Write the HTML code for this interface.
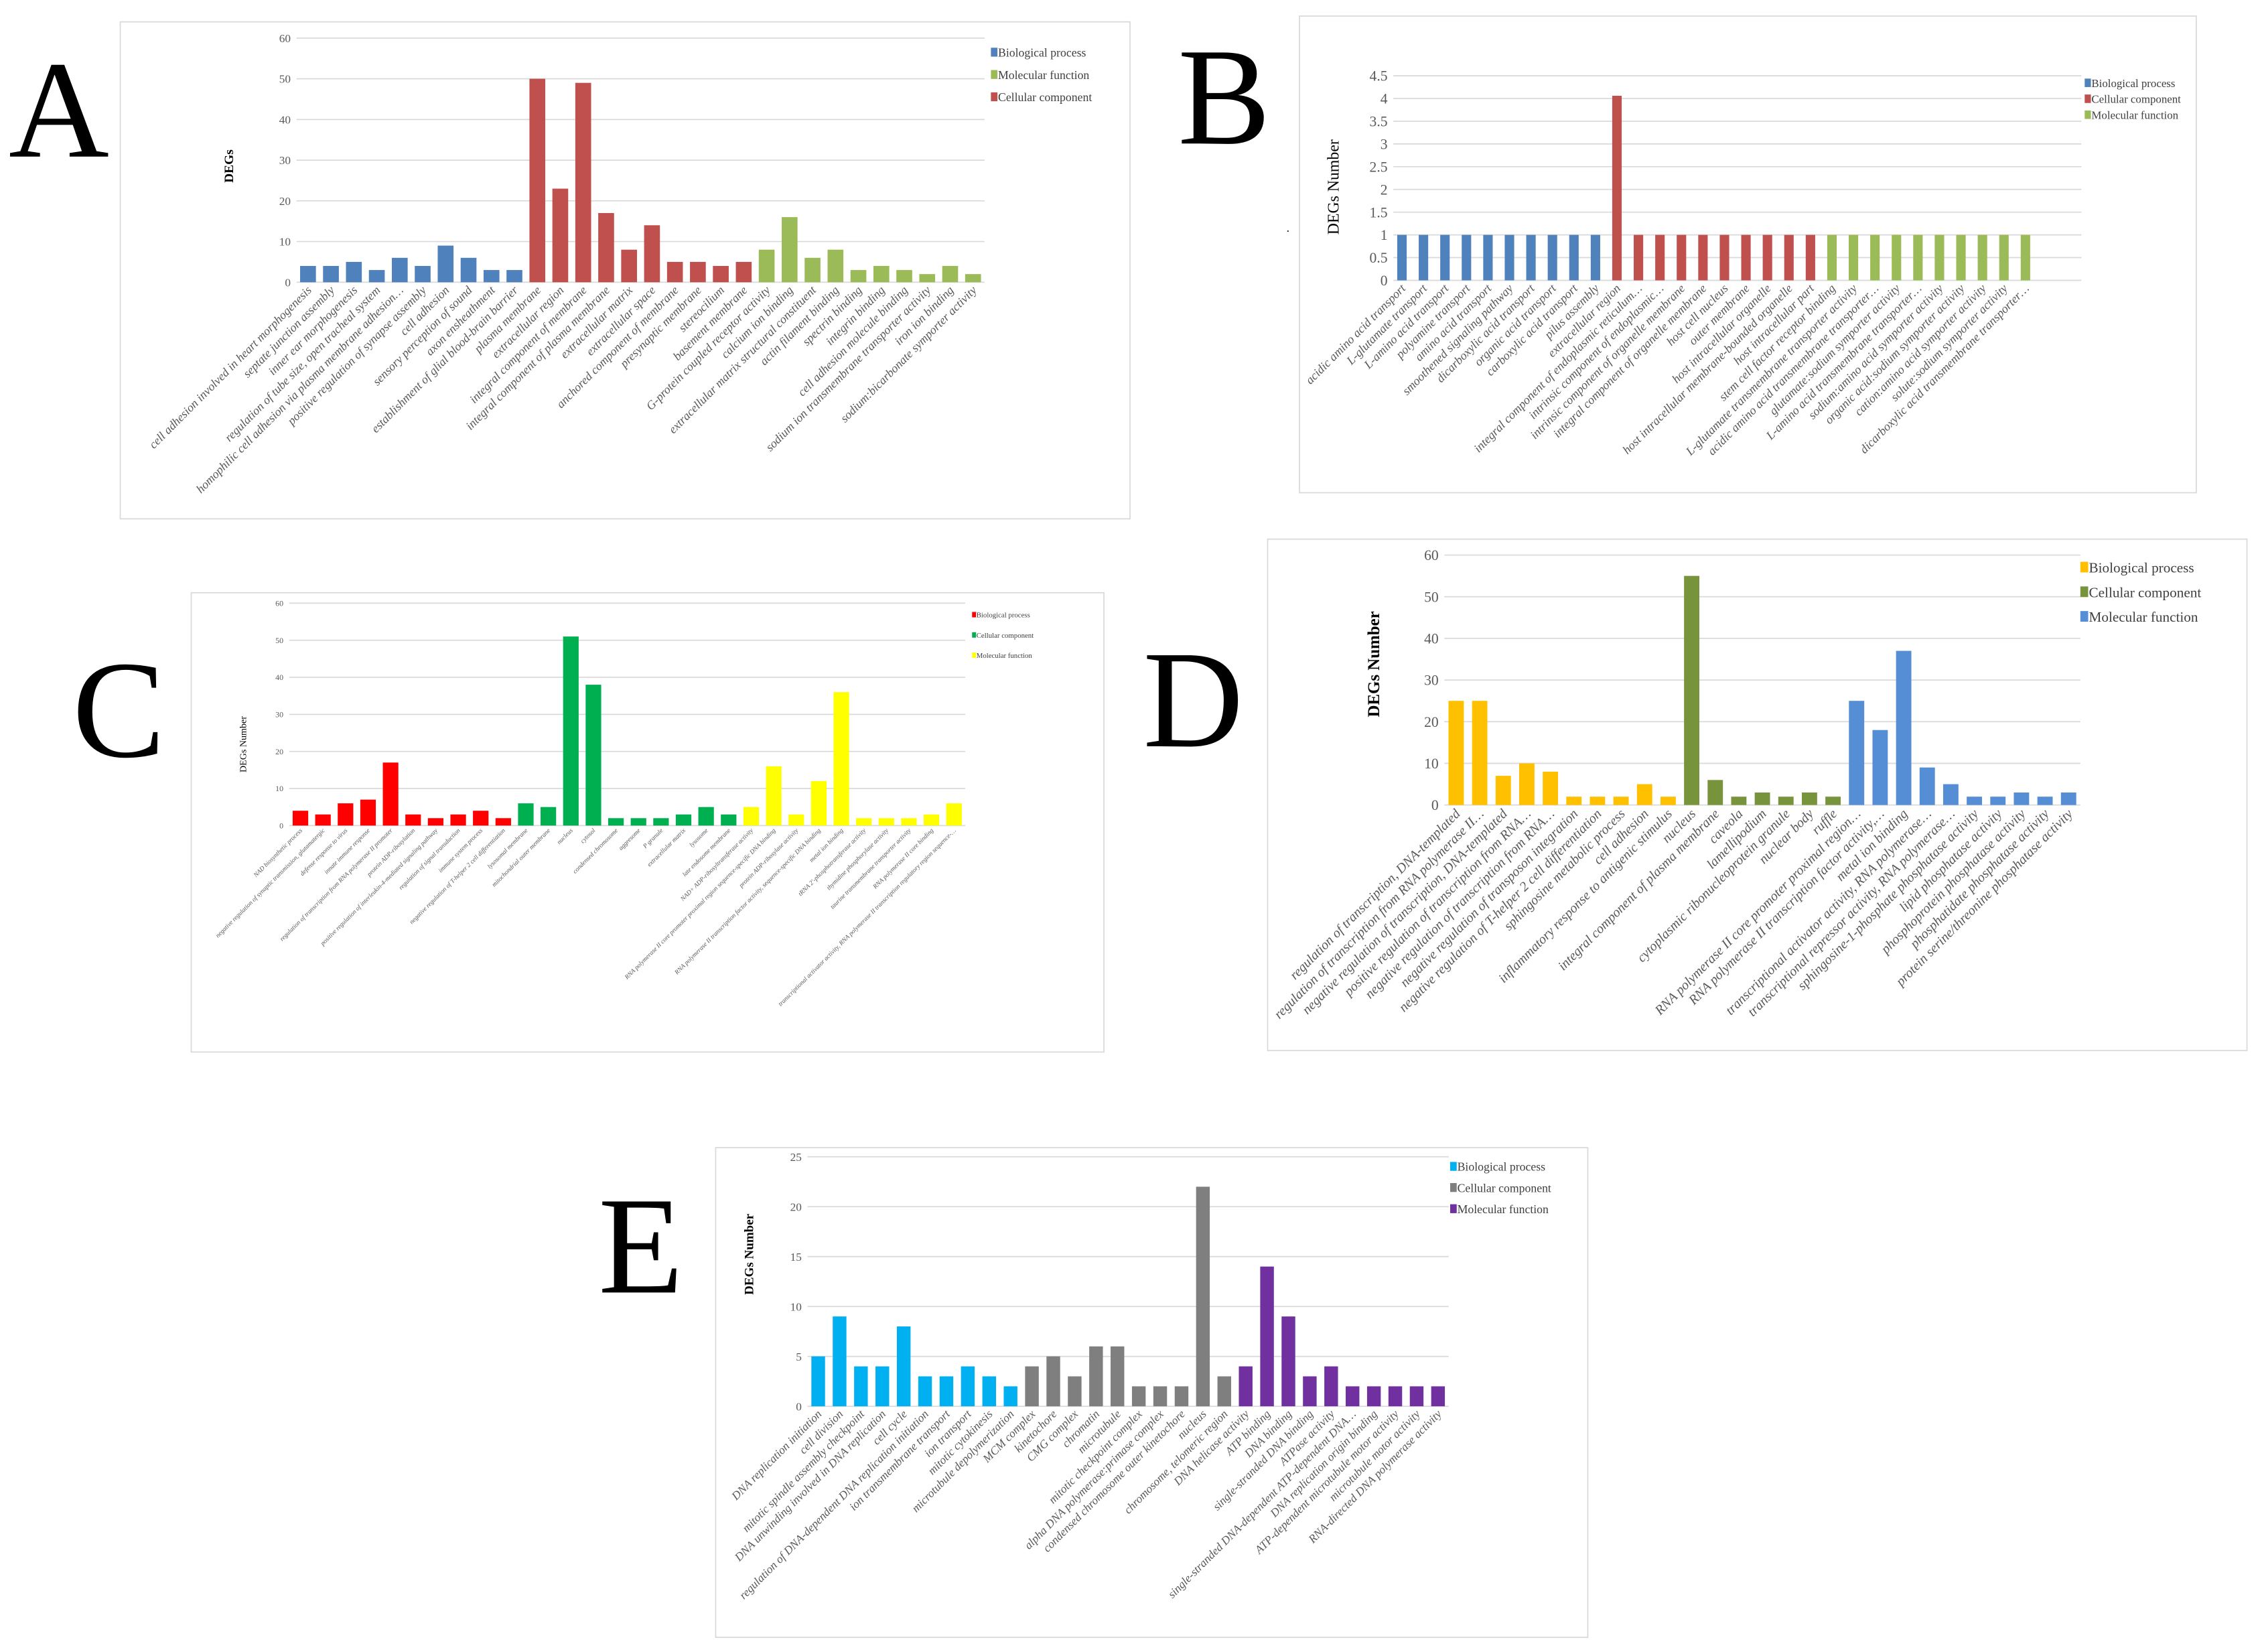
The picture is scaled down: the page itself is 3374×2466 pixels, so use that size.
<!DOCTYPE html>
<html><head><meta charset="utf-8">
<style>
html,body{margin:0;padding:0;background:#fff;}
svg{display:block;}
text{font-family:"Liberation Serif","DejaVu Serif",serif;}
</style></head>
<body>
<svg id="fig" xmlns="http://www.w3.org/2000/svg" width="3374" height="2466" viewBox="0 0 1560 1140">
<rect x="0" y="0" width="1560" height="1140" fill="#fff"/>
<text x="6" y="108" font-size="96">A</text>
<text x="813" y="99" font-size="96">B</text>
<text x="50" y="522" font-size="96">C</text>
<text x="789" y="515" font-size="96">D</text>
<text x="413" y="892" font-size="96">E</text>
<text x="888" y="160" font-size="8">.</text>
</svg>
<script>
// ---------- Panel A data ----------
const aCats = ["cell adhesion involved in heart morphogenesis","septate junction assembly","inner ear morphogenesis","regulation of tube size, open tracheal system","homophilic cell adhesion via plasma membrane adhesion…","positive regulation of synapse assembly","cell adhesion","sensory perception of sound","axon ensheathment","establishment of glial blood-brain barrier","plasma membrane","extracellular region","integral component of membrane","integral component of plasma membrane","extracellular matrix","extracellular space","anchored component of membrane","presynaptic membrane","stereocilium","basement membrane","G-protein coupled receptor activity","calcium ion binding","extracellular matrix structural constituent","actin filament binding","spectrin binding","integrin binding","cell adhesion molecule binding","sodium ion transmembrane transporter activity","iron ion binding","sodium:bicarbonate symporter activity"];
const aBP = [4,4,5,3,6,4,9,6,3,3];
const aCC = [50,23,49,17,8,14,5,5,4,5];
const aMF = [8,16,6,8,3,4,3,2,4,2];
const aTicks = [0,10,20,30,40,50,60];
const aLegend = ["Biological process","Molecular function","Cellular component"];

// ---------- Panel B data ----------
const bCats = ["acidic amino acid transport","L-glutamate transport","L-amino acid transport","polyamine transport","amino acid transport","smoothened signaling pathway","dicarboxylic acid transport","organic acid transport","carboxylic acid transport","pilus assembly","extracellular region","integral component of endoplasmic reticulum…","intrinsic component of endoplasmic…","intrinsic component of organelle membrane","integral component of organelle membrane","host cell nucleus","outer membrane","host intracellular organelle","host intracellular membrane-bounded organelle","host intracellular part","stem cell factor receptor binding","L-glutamate transmembrane transporter activity","acidic amino acid transmembrane transporter…","glutamate:sodium symporter activity","L-amino acid transmembrane transporter…","sodium:amino acid symporter activity","organic acid:sodium symporter activity","cation:amino acid symporter activity","solute:sodium symporter activity","dicarboxylic acid transmembrane transporter…"];
const bBP = [1,1,1,1,1,1,1,1,1,1];
const bCC = [4.06,1,1,1,1,1,1,1,1,1];
const bMF = [1,1,1,1,1,1,1,1,1,1];
const bTicks = [0,0.5,1,1.5,2,2.5,3,3.5,4,4.5];
const bLegend = ["Biological process","Cellular component","Molecular function"];

// ---------- Panel C data ----------
const cCats = ["NAD biosynthetic process","negative regulation of synaptic transmission, glutamatergic","defense response to virus","innate immune response","regulation of transcription from RNA polymerase II promoter","protein ADP-ribosylation","positive regulation of interleukin-4-mediated signaling pathway","regulation of signal transduction","immune system process","negative regulation of T-helper 2 cell differentiation","lysosomal membrane","mitochondrial outer membrane","nucleus","cytosol","condensed chromosome","aggresome","P granule","extracellular matrix","lysosome","late endosome membrane","NAD+ ADP-ribosyltransferase activity","RNA polymerase II core promoter proximal region sequence-specific DNA binding","protein ADP-ribosylase activity","RNA polymerase II transcription factor activity, sequence-specific DNA binding","metal ion binding","tRNA 2'-phosphotransferase activity","thymidine phosphorylase activity","taurine transmembrane transporter activity","RNA polymerase II core binding","transcriptional activator activity, RNA polymerase II transcription regulatory region sequence-…"];
const cBP = [4,3,6,7,17,3,2,3,4,2];
const cCC = [6,5,51,38,2,2,2,3,5,3];
const cMF = [5,16,3,12,36,2,2,2,3,6];
const cTicks = [0,10,20,30,40,50,60];
const cLegend = ["Biological process","Cellular component","Molecular function"];

// ---------- Panel D data ----------
const dCats = ["regulation of transcription, DNA-templated","regulation of transcription from RNA polymerase II…","negative regulation of transcription, DNA-templated","positive regulation of transcription from RNA…","negative regulation of transcription from RNA…","negative regulation of transposon integration","negative regulation of T-helper 2 cell differentiation","sphingosine metabolic process","cell adhesion","inflammatory response to antigenic stimulus","nucleus","integral component of plasma membrane","caveola","lamellipodium","cytoplasmic ribonucleoprotein granule","nuclear body","ruffle","RNA polymerase II core promoter proximal region…","RNA polymerase II transcription factor activity,…","metal ion binding","transcriptional activator activity, RNA polymerase…","transcriptional repressor activity, RNA polymerase…","sphingosine-1-phosphate phosphatase activity","lipid phosphatase activity","phosphoprotein phosphatase activity","phosphatidate phosphatase activity","protein serine/threonine phosphatase activity"];
const dBP = [25,25,7,10,8,2,2,2,5,2];
const dCC = [55,6,2,3,2,3,2];
const dMF = [25,18,37,9,5,2,2,3,2,3];
const dTicks = [0,10,20,30,40,50,60];
const dLegend = ["Biological process","Cellular component","Molecular function"];

// ---------- Panel E data ----------
const eCats = ["DNA replication initiation","cell division","mitotic spindle assembly checkpoint","DNA unwinding involved in DNA replication","cell cycle","regulation of DNA-dependent DNA replication initiation","ion transmembrane transport","ion transport","mitotic cytokinesis","microtubule depolymerization","MCM complex","kinetochore","CMG complex","chromatin","microtubule","mitotic checkpoint complex","alpha DNA polymerase:primase complex","condensed chromosome outer kinetochore","nucleus","chromosome, telomeric region","DNA helicase activity","ATP binding","DNA binding","single-stranded DNA binding","ATPase activity","single-stranded DNA-dependent ATP-dependent DNA…","DNA replication origin binding","ATP-dependent microtubule motor activity","microtubule motor activity","RNA-directed DNA polymerase activity"];
const eBP = [5,9,4,4,8,3,3,4,3,2];
const eCC = [4,5,3,6,6,2,2,2,22,3];
const eMF = [4,14,9,3,4,2,2,2,2,2];
const eTicks = [0,5,10,15,20,25];
const eLegend = ["Biological process","Cellular component","Molecular function"];

const NS = "http://www.w3.org/2000/svg";
const svg = document.getElementById("fig");
function mk(tag, attrs, parent){
  const e = document.createElementNS(NS, tag);
  for (const k in attrs) e.setAttribute(k, attrs[k]);
  (parent||svg).appendChild(e);
  return e;
}

function drawChart(id, L, cats, series, colors, ticks, legend, legColors){
  const g = mk("g", {});
  
  
  const frame = mk("rect", {x:L.box[0], y:L.box[1], width:L.box[2]-L.box[0], height:L.box[3]-L.box[1], fill:"#fff", stroke:"#d9d9d9", "stroke-width":0.8}, g);
  
  
  const tMax = ticks[ticks.length-1];
  const yScale = v => L.y0 - (v / tMax) * (L.y0 - L.yTop);
  ticks.forEach(t => {
    const y = yScale(t);
    const gl = mk("line", {x1:L.gx0, x2:L.gx1, y1:y, y2:y, stroke:"#d9d9d9", "stroke-width":0.8}, g);
    
    
    const tl = mk("text", {x:L.gx0 - 4, y:y + L.tickFs*0.35, "font-size":L.tickFs, "text-anchor":"end", fill:"#595959"}, g);
    tl.textContent = String(t);
    
    
  });
  const vals = [], cols = [];
  series.forEach((s, si) => s.forEach(v => { vals.push(v); cols.push(colors[si]); }));
  const n = L.slots || cats.length;
  const band = (L.gx1 - L.gx0) / n;
  const xCenter = i => L.gx0 + band * (i + 0.5) + (L.xShift || 0);
  vals.forEach((v, i) => {
    const y = yScale(v);
    const b = mk("rect", {x:xCenter(i) - band*L.bw/2, y:y, width:band*L.bw, height:L.y0 - y, fill:cols[i]}, g);
    
    
  });
  cats.forEach((c, i) => {
    const x = xCenter(i) + L.lblFs*0.35, y = L.y0 + L.lblFs*0.6 + 1;
    const t = mk("text", {x:x, y:y, "font-size":L.lblFs, "font-style":"italic", "text-anchor":"end", fill:"#595959", transform:"rotate(-45 " + x + " " + y + ")"}, g);
    t.textContent = c;
    
    
  });
  const yl = mk("text", {x:L.ylab[0], y:L.ylab[1], "font-size":L.ylabFs, "font-weight":L.ylabBold?"bold":"normal", "text-anchor":"middle", fill:"#000", transform:"rotate(-90 " + L.ylab[0] + " " + L.ylab[1] + ")"}, g);
  yl.textContent = L.ylabText;
  
  
  const lc = legColors || colors;
  legend.forEach((name, i) => {
    const ly = L.leg[1] + i * L.legGap;
    const sq = mk("rect", {x:L.leg[0], y:ly - L.legFs*0.75, width:L.legFs*0.55, height:L.legFs*0.75, fill:lc[i]}, g);
    
    
    const lt = mk("text", {x:L.leg[0] + L.legFs*0.6, y:ly, "font-size":L.legFs, fill:"#404040"}, g);
    lt.textContent = name;
    
    
  });
}

drawChart("a", {box:[83,15,780,358], gx0:204.7, gx1:679.6, y0:194.7, yTop:26.2, bw:0.69, tickFs:8, lblFs:8.3, ylab:[161,114.6], ylabText:"DEGs", ylabFs:9, ylabBold:true, leg:[684,39], legGap:15.4, legFs:8.2}, aCats, [aBP,aCC,aMF], ["#4f81bd","#c0504d","#9bbb59"], aTicks, aLegend, ["#4f81bd","#9bbb59","#c0504d"]);
drawChart("b", {box:[897,11,1516,340], gx0:961.8, gx1:1436.7, y0:193.4, yTop:52.2, slots:32, bw:0.44, xShift:-1.5, tickFs:10, lblFs:8.4, ylab:[924,129], ylabText:"DEGs Number", ylabFs:11, ylabBold:false, leg:[1439,60], legGap:11, legFs:7.8}, bCats, [bBP,bCC,bMF], ["#4f81bd","#c0504d","#9bbb59"], bTicks, bLegend);
drawChart("c", {box:[132,409,762,726], gx0:199.6, gx1:666.3, y0:569.7, yTop:416.2, bw:0.69, tickFs:5.5, lblFs:4.4, ylab:[170,513.6], ylabText:"DEGs Number", ylabFs:6.5, ylabBold:false, leg:[671,426], legGap:14, legFs:5}, cCats, [cBP,cCC,cMF], ["#ff0000","#00b050","#ffff00"], cTicks, cLegend);
drawChart("d", {box:[875,372,1551,725], gx0:997, gx1:1436, y0:555.5, yTop:383, bw:0.65, tickFs:10, lblFs:9.3, ylab:[952,458.3], ylabText:"DEGs Number", ylabFs:11.5, ylabBold:true, leg:[1436,395], legGap:17, legFs:9.8}, dCats, [dBP,dCC,dMF], ["#ffc000","#77933c","#558ed5"], dTicks, dLegend);
drawChart("e", {box:[494,792,1096,1130], gx0:557.4, gx1:1000, y0:970.5, yTop:798.3, bw:0.64, tickFs:8, lblFs:8, ylab:[520,865.6], ylabText:"DEGs Number", ylabFs:8.8, ylabBold:true, leg:[1001,808], legGap:14.6, legFs:8.2}, eCats, [eBP,eCC,eMF], ["#00b0f0","#7f7f7f","#7030a0"], eTicks, eLegend);
</script>
</body></html>
